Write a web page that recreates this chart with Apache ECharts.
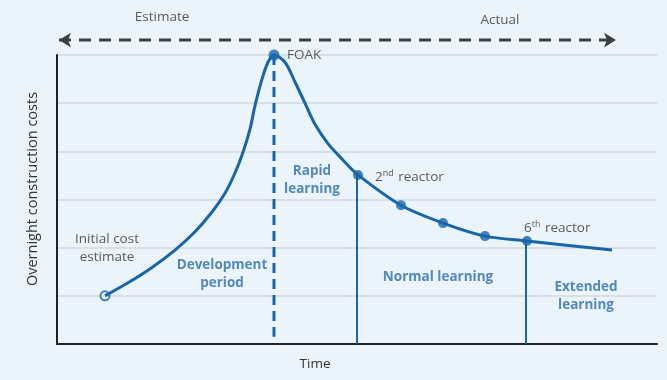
<!DOCTYPE html>
<html><head><meta charset="utf-8">
<script src="https://cdn.jsdelivr.net/npm/echarts@6/dist/echarts.min.js"></script>
<style>html,body{margin:0;padding:0;background:#ebf3fb;}#c{width:667px;height:380px;}</style>
</head><body><div id="c"></div>
<script>
// Curve: time (arbitrary units) vs overnight construction cost (arbitrary units)
const curveTime = [48, 71, 95, 118, 138, 155, 168, 178, 186, 193, 198, 205, 211, 217, 228, 238, 248, 258, 271, 285, 301, 344, 386, 428, 470, 555];
const curveCost = [1.00, 1.27, 1.59, 1.95, 2.33, 2.74, 3.13, 3.55, 3.98, 4.46, 4.95, 5.50, 5.85, 6.00, 5.85, 5.44, 5.00, 4.56, 4.16, 3.84, 3.51, 2.88, 2.51, 2.24, 2.14, 1.95];
const initialEstimate = [48, 1.00];
const foakPoint = [217, 6.00];
const reactorTime = [301, 344, 386, 428, 470];
const reactorCost = [3.51, 2.88, 2.51, 2.24, 2.14];
const dashedDivider = [[217, 6.00], [217, 0.15]];
const divider2nd = [[300, 3.51], [300, 0]];
const divider6th = [[469, 2.14], [469, 0]];
const timelineArrow = [[2, 6.31], [559, 6.31]];
// Annotations: [time, cost, text, align]
const darkNotes = [
  [105, 6.78, 'Estimate', 'center'],
  [443, 6.72, 'Actual', 'center'],
  [230, 6.00, 'FOAK', 'left'],
  [50, 1.99, 'Initial cost\nestimate', 'center'],
  [318, 3.46, '{n|2}{s|nd}{n| reactor}', 'left'],
  [467, 2.41, '{n|6}{s|th}{n| reactor}', 'left']
];
const blueNotes = [
  [165, 1.45, 'Development\nperiod'],
  [255, 3.40, 'Rapid\nlearning'],
  [381, 1.39, 'Normal learning'],
  [529, 1.00, 'Extended\nlearning']
];
const yTitle = 'Overnight construction costs';
const xTitle = 'Time';

const BLUE = '#1766aa';
const TEXTBLUE = '#2a6db0';
const DARK = '#2f3439';
const FONT = '"Open Sans"';
const BG = '#ebf3fb';
const FS = 13.5;

const chart = echarts.init(document.getElementById('c'), null, {renderer: 'canvas'});
chart.setOption({
  backgroundColor: BG,
  animation: false,
  grid: {left: 57, right: 10, top: 55, bottom: 36},
  xAxis: {
    type: 'value', min: 0, max: 600,
    name: xTitle, nameLocation: 'middle', nameGap: 13,
    nameTextStyle: {color: DARK, fontSize: FS, fontFamily: FONT, padding: [0, 84, 0, 0]},
    axisLine: {show: true, onZero: false, lineStyle: {color: '#1e2226', width: 2}},
    axisTick: {show: false}, axisLabel: {show: false}, splitLine: {show: false}
  },
  yAxis: {
    type: 'value', min: 0, max: 6, interval: 1,
    name: yTitle, nameLocation: 'middle', nameGap: 17, nameRotate: 90,
    nameTextStyle: {color: DARK, fontSize: 14.5, fontFamily: FONT, padding: [0, 0, 0, 21]},
    axisLine: {show: true, lineStyle: {color: '#1e2226', width: 2}},
    axisTick: {show: false}, axisLabel: {show: false},
    splitLine: {show: true, lineStyle: {color: '#d3d9df', width: 1.5}}
  },
  series: [
    {
      type: 'line', clip: false, silent: true, showSymbol: true,
      symbolSize: [11, 12],
      data: [
        {value: timelineArrow[0], symbol: 'arrow', symbolRotate: 90},
        {value: timelineArrow[1], symbol: 'arrow', symbolRotate: -90}
      ],
      itemStyle: {color: '#3a3f44'},
      lineStyle: {color: '#3a3f44', width: 3, type: [12, 8]}
    },
    {
      type: 'line', data: dashedDivider, symbol: 'none', silent: true,
      lineStyle: {color: BLUE, width: 3, type: [10, 6]}
    },
    {
      type: 'line', data: divider2nd, symbol: 'none', silent: true,
      lineStyle: {color: BLUE, width: 2}
    },
    {
      type: 'line', data: divider6th, symbol: 'none', silent: true,
      lineStyle: {color: BLUE, width: 2}
    },
    {
      type: 'line', data: curveTime.map((t, i) => [t, curveCost[i]]),
      smooth: 0.3, symbol: 'none', clip: false,
      lineStyle: {color: BLUE, width: 3}
    },
    {
      type: 'scatter', data: [initialEstimate], symbol: 'circle', symbolSize: 9,
      itemStyle: {color: BG, borderColor: BLUE, borderWidth: 2}
    },
    {
      type: 'scatter', data: [foakPoint], clip: false,
      symbol: 'circle', symbolSize: 11, itemStyle: {color: BLUE}
    },
    {
      type: 'scatter', data: reactorTime.map((t, i) => [t, reactorCost[i]]),
      symbol: 'circle', symbolSize: 10, itemStyle: {color: BLUE}
    },
    {
      type: 'scatter', clip: false, silent: true, symbolSize: 0,
      data: darkNotes.map(d => ({value: [d[0], d[1]], label: {align: d[3], formatter: d[2]}})),
      label: {
        show: true, position: 'inside', color: DARK, fontSize: FS, fontFamily: FONT,
        lineHeight: 18,
        rich: {
          n: {color: DARK, fontSize: FS, fontFamily: FONT},
          s: {color: DARK, fontSize: 9, fontFamily: FONT, padding: [0, 1, 7, 0]}
        }
      }
    },
    {
      type: 'scatter', clip: false, silent: true, symbolSize: 0,
      data: blueNotes.map(d => ({value: [d[0], d[1]], label: {formatter: d[2]}})),
      label: {
        show: true, position: 'inside', align: 'center', color: TEXTBLUE,
        fontSize: FS, fontWeight: 'bold', fontFamily: FONT, lineHeight: 18
      }
    }
  ]
});
</script></body></html>
